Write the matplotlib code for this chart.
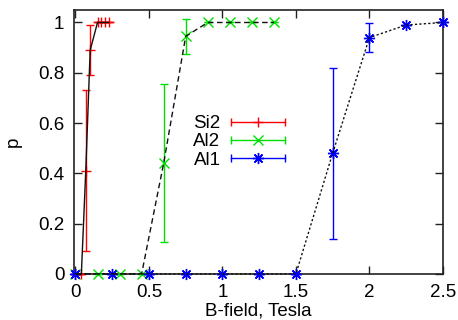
import matplotlib
matplotlib.use("Agg")
import matplotlib.pyplot as plt
from matplotlib.lines import Line2D
from matplotlib.legend_handler import HandlerBase

plt.rcParams['font.family'] = ['Liberation Sans', 'DejaVu Sans']
plt.rcParams['font.size'] = 13.5

# Switching probability vs magnetic field for three samples
si2_b = [0.0, 0.04, 0.07, 0.10, 0.15, 0.175, 0.20, 0.225]
si2_p = [0.0, 0.0, 0.41, 0.89, 1.0, 1.0, 1.0, 1.0]
si2_err = [0.0, 0.0, 0.32, 0.10, 0.0, 0.0, 0.0, 0.0]

al2_b = [0.0, 0.15, 0.30, 0.45, 0.60, 0.75, 0.90, 1.05, 1.20, 1.35]
al2_p = [0.0, 0.0, 0.0, 0.0, 0.44, 0.945, 1.0, 1.0, 1.0, 1.0]
al2_err = [0.0, 0.0, 0.0, 0.0, 0.315, 0.07, 0.0, 0.0, 0.0, 0.0]

al1_b = [0.0, 0.25, 0.50, 0.75, 1.00, 1.25, 1.50, 1.75, 2.00, 2.25, 2.50]
al1_p = [0.0, 0.0, 0.0, 0.0, 0.0, 0.0, 0.0, 0.48, 0.94, 0.99, 1.0]
al1_err = [0.0, 0.0, 0.0, 0.0, 0.0, 0.0, 0.0, 0.34, 0.057, 0.0, 0.0]

labels = ["Si2", "Al2", "Al1"]
colors = ["#ff0000", "#00e000", "#0000ff"]
markers = ["+", "x", (8, 2, 0)]
marker_sizes = [7, 7, 8]
linestyles = ["-", (0, (4, 2.5)), (0, (1.6, 1.6))]

xticks = [0, 0.5, 1, 1.5, 2, 2.5]
xticklabels = ["0", "0.5", "1", "1.5", "2", "2.5"]
yticks = [0, 0.2, 0.4, 0.6, 0.8, 1.0]
yticklabels = ["0", "0.2", "0.4", "0.6", "0.8", "1"]

fig = plt.figure(figsize=(4.58, 3.2), dpi=100)
ax = fig.add_axes([0.1616, 0.144, 0.967 - 0.1616, 0.969 - 0.144])

series = [(si2_b, si2_p, si2_err), (al2_b, al2_p, al2_err), (al1_b, al1_p, al1_err)]
handles = []
for (b, p, e), lab, col, mk, ms, ls in zip(series, labels, colors, markers,
                                           marker_sizes, linestyles):
    eb = ax.errorbar(b, p, yerr=e, fmt='none', ecolor=col, elinewidth=1.0,
                     capsize=3, capthick=1.0, zorder=3, clip_on=False)
    for art in eb.get_children():
        art.set_clip_on(False)
    ax.plot(b, p, linestyle='none', marker=mk, color=col, markersize=ms,
            markeredgewidth=1.0, zorder=4, clip_on=False)
    ax.plot(b, p, linestyle=ls, color='#111111', linewidth=1.0, zorder=5,
            clip_on=False)
    handles.append(Line2D([], [], color=col, marker=mk, markersize=ms,
                          markeredgewidth=1.0, linewidth=1.0))


class HandlerCappedBar(HandlerBase):
    """Horizontal bar with end caps and the series marker in the middle."""

    def create_artists(self, legend, orig_handle, xdescent, ydescent,
                       width, height, fontsize, trans):
        y = height / 2.0 - ydescent
        x0, x1 = -xdescent, width - xdescent
        col = orig_handle.get_color()
        bar = Line2D([x0, x1], [y, y], color=col, linewidth=1.0)
        caps = Line2D([x0, x1], [y, y], linestyle='none', marker='|',
                      markersize=6, markeredgewidth=1.0, color=col)
        mark = Line2D([(x0 + x1) / 2.0], [y], linestyle='none',
                      marker=orig_handle.get_marker(),
                      markersize=orig_handle.get_markersize(),
                      markeredgewidth=1.0, color=col)
        for a in (bar, caps, mark):
            a.set_transform(trans)
        return [bar, caps, mark]


ax.legend(handles, labels, handler_map={Line2D: HandlerCappedBar()},
          markerfirst=False, frameon=False, handlelength=2.9,
          handletextpad=0.55, labelspacing=0.05, borderaxespad=0,
          loc='center left', bbox_to_anchor=(0.303, 0.5))

ax.set_xlim(-0.01, 2.5)
ax.set_ylim(0, 1.05)
ax.set_xticks(xticks)
ax.set_xticklabels(xticklabels)
ax.set_yticks(yticks)
ax.set_yticklabels(yticklabels)
ax.tick_params(direction='in', length=6, width=1.0, top=True, right=True,
               pad=7, colors='#222222', labelcolor='black')
for s in ax.spines.values():
    s.set_linewidth(1.2)
    s.set_color('#222222')

ax.set_xlabel("B-field, Tesla", labelpad=1)
ax.set_ylabel("p", labelpad=12)

fig.savefig("out.png", dpi=100)
